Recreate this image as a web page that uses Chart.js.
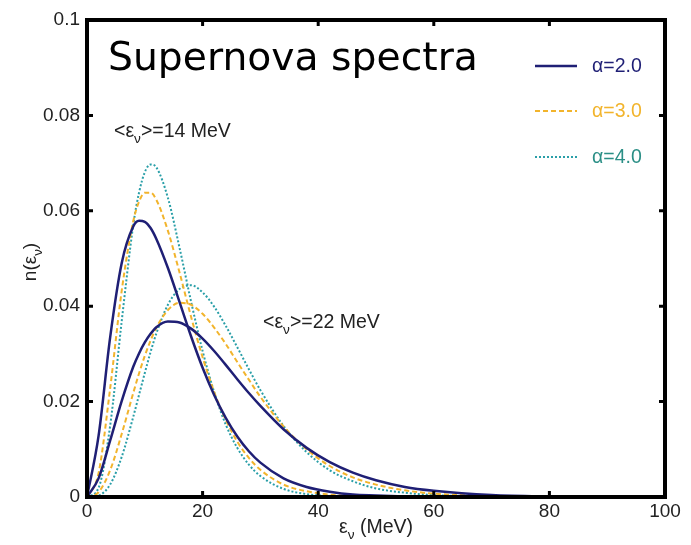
<!DOCTYPE html>
<html>
<head>
<meta charset="utf-8">
<script src="https://cdn.jsdelivr.net/npm/chart.js@4/dist/chart.umd.min.js"></script>
<style>
  html, body { margin: 0; padding: 0; background: #fff; }
  canvas { display: block; }
</style>
</head>
<body>
<canvas id="spectra" width="691" height="545"></canvas>
<script>
// neutrino energy grid (MeV)
const energies = [0, 2, 4, 6, 8, 9, 10, 11, 12, 14, 16, 18, 20, 22, 24, 26, 28, 30, 34, 38, 42, 46, 50, 55, 60, 70, 80, 90, 100];

// <E> = 14 MeV
const alpha2_14 = [0, 0.0128, 0.0334, 0.0490, 0.0567, 0.0579, 0.0577, 0.0564, 0.0541, 0.0480, 0.0409, 0.0337, 0.0271, 0.0214, 0.0166, 0.0127, 0.0096, 0.0072, 0.0039, 0.0021, 0.0011, 0.0005, 0.0003, 0.0001, 0, 0, 0, 0, 0];
const alpha3_14 = [0, 0.0050, 0.0227, 0.0432, 0.0578, 0.0619, 0.0638, 0.0638, 0.0623, 0.0558, 0.0471, 0.0378, 0.0293, 0.0220, 0.0162, 0.0116, 0.0082, 0.0057, 0.0026, 0.0012, 0.0005, 0.0002, 0.0001, 0, 0, 0, 0, 0, 0];
const alpha4_14 = [0, 0.0019, 0.0149, 0.0368, 0.0570, 0.0638, 0.0681, 0.0697, 0.0691, 0.0627, 0.0523, 0.0410, 0.0306, 0.0220, 0.0152, 0.0103, 0.0068, 0.0044, 0.0017, 0.0006, 0.0002, 0.0001, 0, 0, 0, 0, 0, 0, 0];

// <E> = 22 MeV
const alpha2_22 = [0, 0.0039, 0.0118, 0.0201, 0.0273, 0.0301, 0.0324, 0.0342, 0.0356, 0.0368, 0.0366, 0.0353, 0.0332, 0.0306, 0.0277, 0.0247, 0.0218, 0.0191, 0.0142, 0.0103, 0.0073, 0.0051, 0.0035, 0.0021, 0.0013, 0.0004, 0.0001, 0, 0];
const alpha3_22 = [0, 0.0010, 0.0056, 0.0132, 0.0218, 0.0259, 0.0296, 0.0328, 0.0355, 0.0392, 0.0407, 0.0403, 0.0384, 0.0355, 0.0321, 0.0283, 0.0246, 0.0210, 0.0148, 0.0100, 0.0065, 0.0041, 0.0026, 0.0014, 0.0007, 0.0002, 0, 0, 0];
const alpha4_22 = [0, 0.0003, 0.0026, 0.0084, 0.0168, 0.0214, 0.0260, 0.0304, 0.0343, 0.0403, 0.0436, 0.0444, 0.0429, 0.0399, 0.0359, 0.0314, 0.0268, 0.0224, 0.0149, 0.0094, 0.0056, 0.0033, 0.0018, 0.0009, 0.0004, 0.0001, 0, 0, 0];

const xTicks = [0, 20, 40, 60, 80, 100];
const yTicks = [0, 0.02, 0.04, 0.06, 0.08, 0.1];
const yTickLabels = ["0", "0.02", "0.04", "0.06", "0.08", "0.1"];
const legendLabels = ["\u03b1=2.0", "\u03b1=3.0", "\u03b1=4.0"];

const NAVY = "#1f1f75";
const GOLD = "#f2b42c";
const TEAL = "#2a9fa8";
const TEAL_TEXT = "#2b8f86";
const SANS = "'Liberation Sans', Arial, sans-serif";

function pts(ys) {
    return energies.map((e, i) => ({ x: e, y: ys[i] }));
}

const styles = [
    { color: NAVY, dash: [], width: 2.5, order: 0 },
    { color: GOLD, dash: [5, 3], width: 2, order: 1 },
    { color: TEAL, dash: [2, 2], width: 2, order: 2 }
];

function ds(ys, s) {
    return {
        data: pts(ys),
        borderColor: s.color,
        borderDash: s.dash,
        borderWidth: s.width,
        pointRadius: 0,
        fill: false,
        cubicInterpolationMode: "monotone",
        order: s.order
    };
}

// text with a subscript nu, pieces = [[text, isSub], ...]
function drawSub(ctx, pieces, x, y, size, align) {
    let total = 0;
    pieces.forEach(p => {
        ctx.font = (p[1] ? size * 0.7 : size) + "px " + SANS;
        total += ctx.measureText(p[0]).width;
    });
    let cx = align === "center" ? x - total / 2 : x;
    ctx.textAlign = "left";
    ctx.textBaseline = "alphabetic";
    pieces.forEach(p => {
        ctx.font = (p[1] ? size * 0.7 : size) + "px " + SANS;
        ctx.fillText(p[0], cx, p[1] ? y + size * 0.3 : y);
        cx += ctx.measureText(p[0]).width;
    });
}

const decor = {
    id: "decor",
    afterDatasetsDraw(chart) {
        const ctx = chart.ctx;
        const a = chart.chartArea;
        const xs = chart.scales.x, ys = chart.scales.y;
        ctx.save();

        // frame
        ctx.strokeStyle = "#000";
        ctx.lineWidth = 4;
        ctx.strokeRect(a.left, a.top, a.right - a.left, a.bottom - a.top);

        // inward tick marks on all four sides
        ctx.lineWidth = 3;
        ctx.beginPath();
        xTicks.forEach(v => {
            const px = xs.getPixelForValue(v);
            ctx.moveTo(px, a.bottom); ctx.lineTo(px, a.bottom - 6);
            ctx.moveTo(px, a.top); ctx.lineTo(px, a.top + 6);
        });
        yTicks.forEach(v => {
            const py = ys.getPixelForValue(v);
            ctx.moveTo(a.left, py); ctx.lineTo(a.left + 6, py);
            ctx.moveTo(a.right, py); ctx.lineTo(a.right - 6, py);
        });
        ctx.stroke();

        // title
        ctx.fillStyle = "#000";
        ctx.font = "36px 'Comic Sans MS', 'DejaVu Sans', sans-serif";
        const tw = ctx.measureText("Supernova spectra").width;
        const fs = 36 * 370 / tw;
        ctx.font = fs + "px 'Comic Sans MS', 'DejaVu Sans', sans-serif";
        ctx.textAlign = "left";
        ctx.textBaseline = "alphabetic";
        ctx.fillText("Supernova spectra", 108, 70);

        // legend
        const legY = [66, 111, 157];
        const legText = [NAVY, GOLD, TEAL_TEXT];
        styles.forEach((s, i) => {
            ctx.strokeStyle = s.color;
            ctx.lineWidth = s.width;
            ctx.setLineDash(s.dash);
            ctx.beginPath();
            ctx.moveTo(535, legY[i]);
            ctx.lineTo(577, legY[i]);
            ctx.stroke();
            ctx.setLineDash([]);
            ctx.fillStyle = legText[i];
            ctx.font = "19.5px " + SANS;
            ctx.textBaseline = "middle";
            ctx.fillText(legendLabels[i], 592, legY[i] + 1);
        });

        // annotations
        ctx.fillStyle = "#222";
        drawSub(ctx, [["<\u03b5", 0], ["\u03bd", 1], [">=14 MeV", 0]], 114, 137, 19.5, "left");
        drawSub(ctx, [["<\u03b5", 0], ["\u03bd", 1], [">=22 MeV", 0]], 263, 328, 19.5, "left");

        // axis titles
        drawSub(ctx, [["\u03b5", 0], ["\u03bd", 1], [" (MeV)", 0]], 376, 533, 19.5, "center");
        ctx.save();
        ctx.translate(36, 262);
        ctx.rotate(-Math.PI / 2);
        drawSub(ctx, [["n(\u03b5", 0], ["\u03bd", 1], [")", 0]], 0, 0, 19, "center");
        ctx.restore();

        ctx.restore();
    }
};

new Chart(document.getElementById("spectra"), {
    type: "line",
    data: {
        datasets: [
            ds(alpha2_14, styles[0]), ds(alpha2_22, styles[0]),
            ds(alpha3_14, styles[1]), ds(alpha3_22, styles[1]),
            ds(alpha4_14, styles[2]), ds(alpha4_22, styles[2])
        ]
    },
    options: {
        responsive: false,
        animation: false,
        layout: { padding: { left: 0, top: 20, right: 26, bottom: 0 } },
        plugins: { legend: { display: false }, tooltip: { enabled: false } },
        scales: {
            x: {
                type: "linear",
                min: 0, max: 100,
                afterBuildTicks: s => { s.ticks = xTicks.map(v => ({ value: v })); },
                afterFit: s => { s.height = 48; },
                grid: { display: false, drawTicks: false },
                border: { display: false },
                ticks: {
                    color: "#222",
                    padding: 3,
                    maxRotation: 0,
                    font: { family: SANS, size: 19 }
                }
            },
            y: {
                min: 0, max: 0.1,
                afterBuildTicks: s => { s.ticks = yTicks.map(v => ({ value: v })); },
                afterFit: s => { s.width = 87; },
                grid: { display: false, drawTicks: false },
                border: { display: false },
                ticks: {
                    color: "#222",
                    padding: 7,
                    callback: (v) => yTickLabels[yTicks.indexOf(v)] ?? "",
                    font: { family: SANS, size: 19 }
                }
            }
        }
    },
    plugins: [decor]
});
</script>
</body>
</html>
